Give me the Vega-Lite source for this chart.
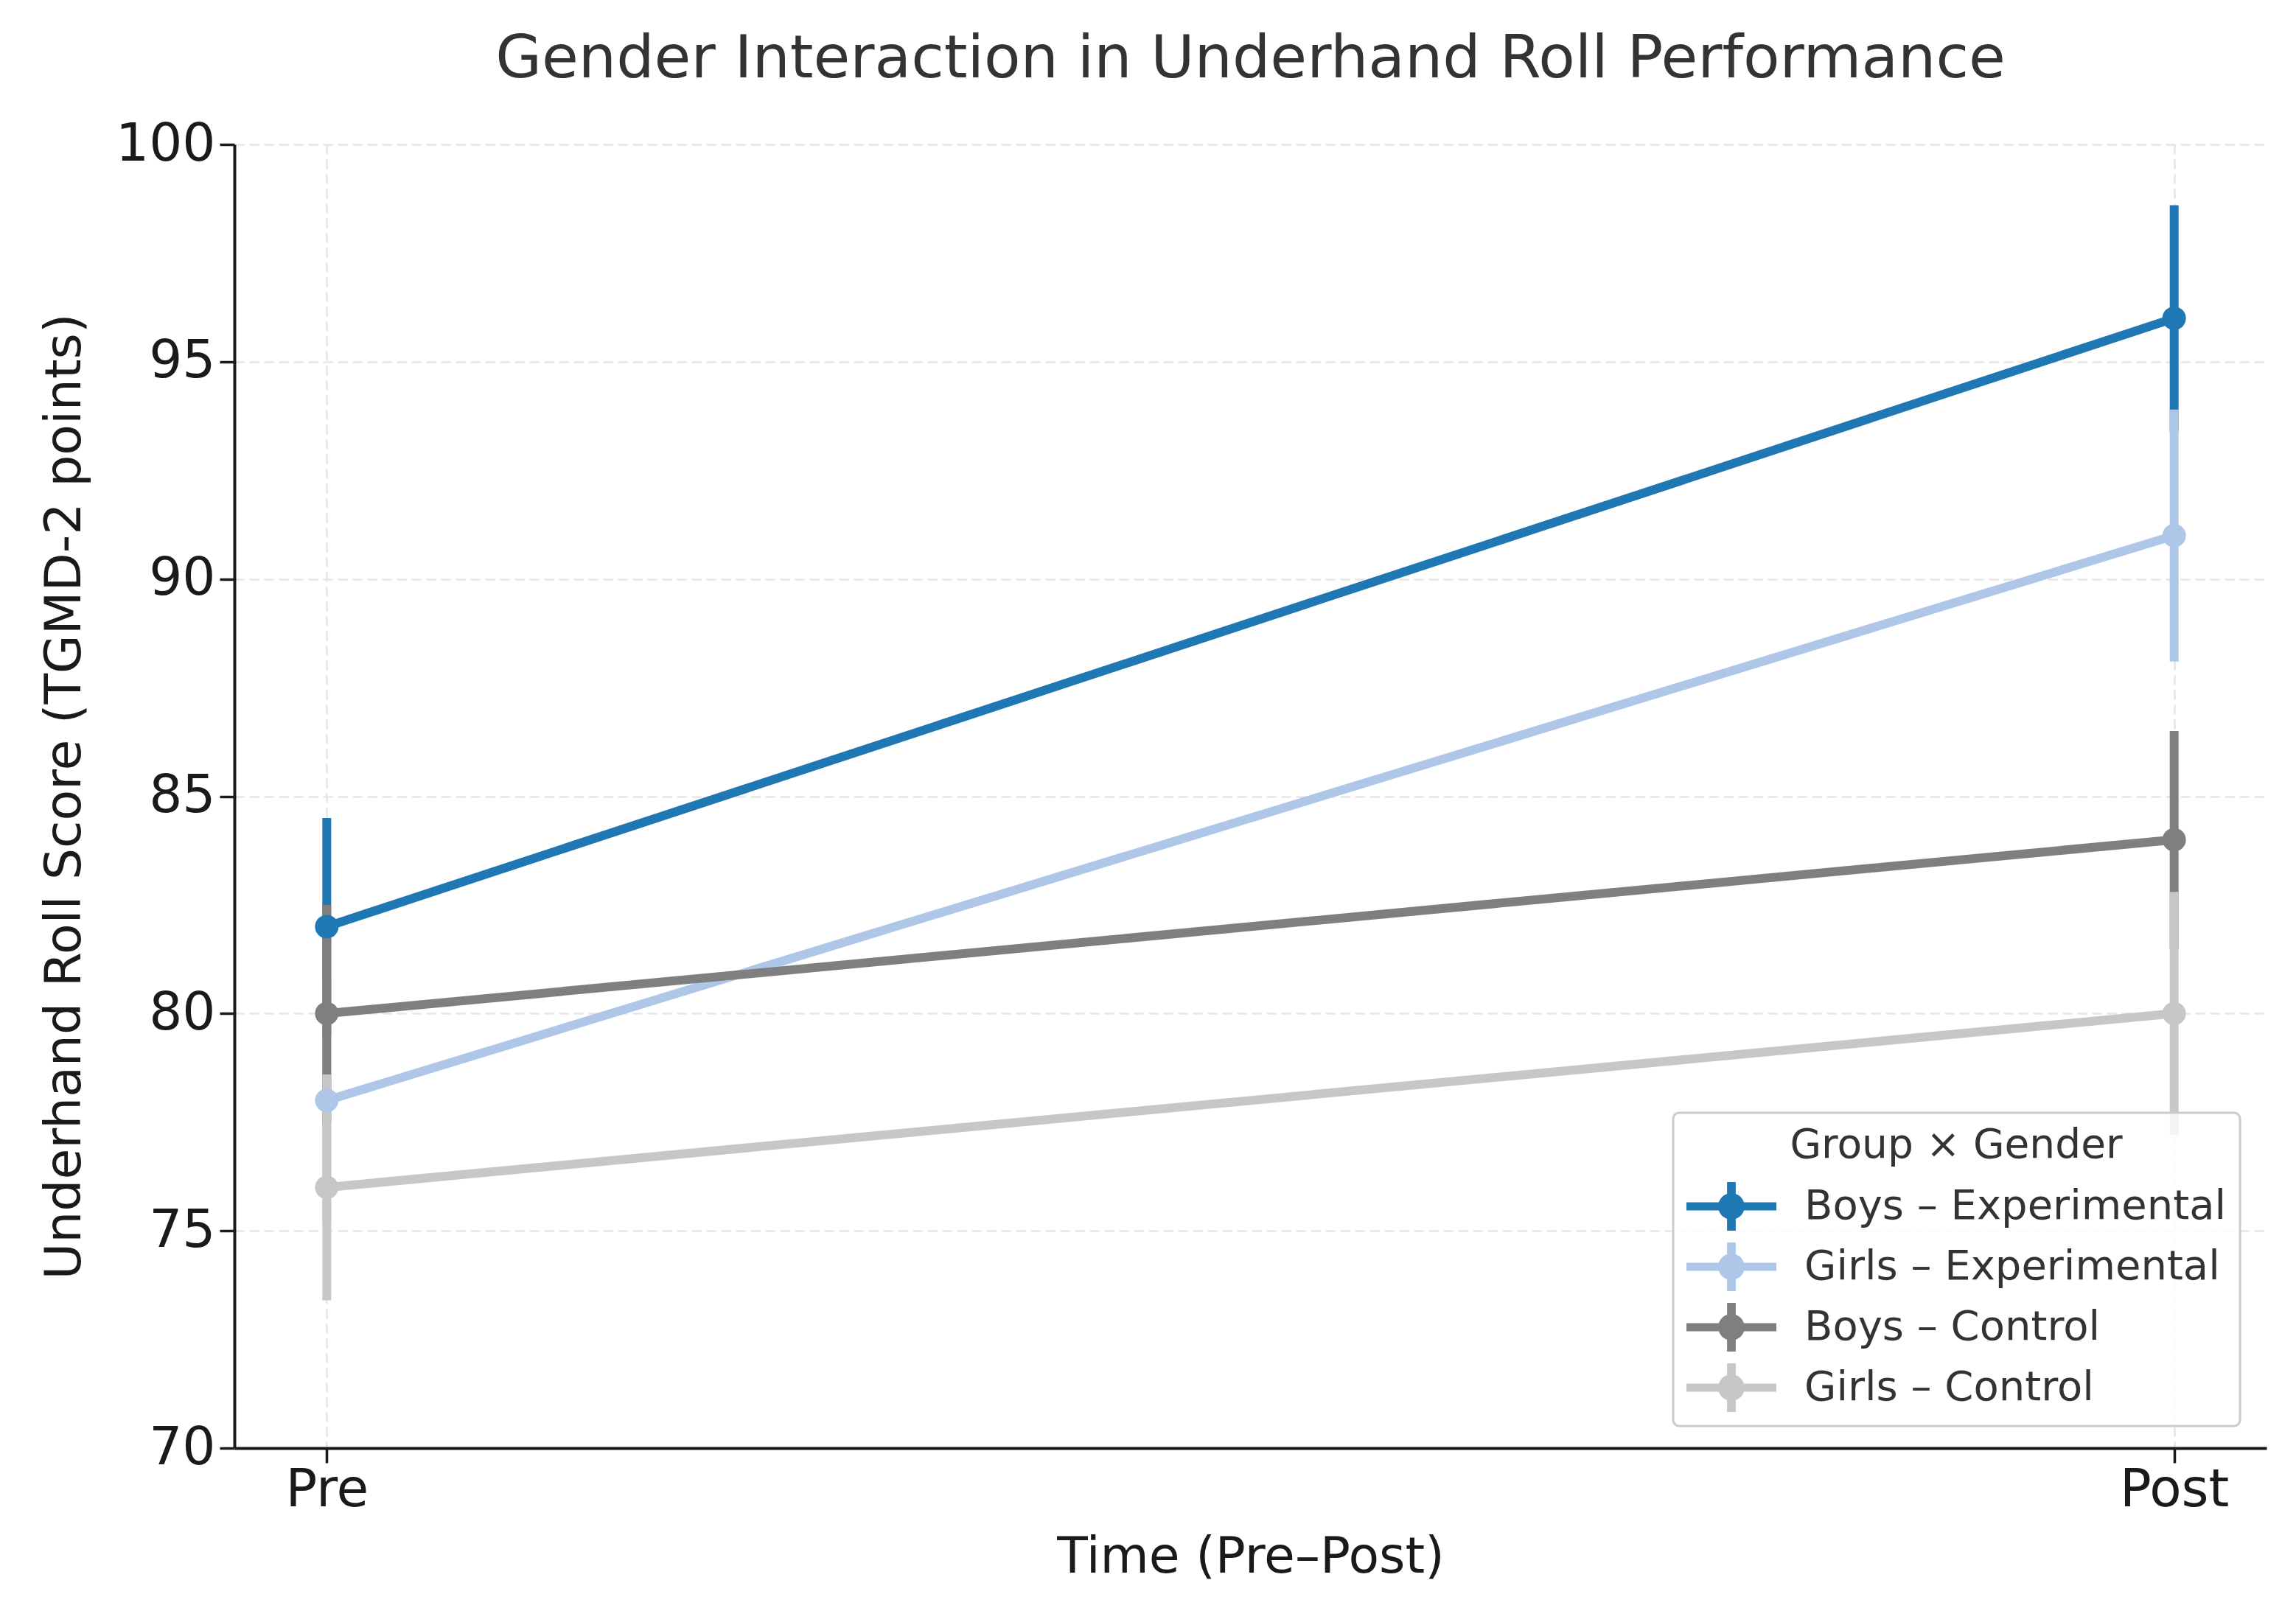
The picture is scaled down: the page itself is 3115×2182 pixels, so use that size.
{
  "$schema": "https://vega.github.io/schema/vega-lite/v6.json",
  "width": 2757,
  "height": 1769,
  "autosize": {"type": "none"},
  "padding": {"left": 318, "top": 196, "right": 40, "bottom": 217},
  "background": "white",
  "title": {
    "text": "Gender Interaction in Underhand Roll Performance",
    "font": "DejaVu Sans",
    "fontSize": 81,
    "fontWeight": "normal",
    "color": "#333333",
    "anchor": "middle",
    "baseline": "alphabetic",
    "offset": -26
  },
  "data": {
    "values": [
      {"group": "Boys – Experimental", "time": "Pre", "score": 82, "lo": 79.5, "hi": 84.5},
      {"group": "Boys – Experimental", "time": "Post", "score": 96, "lo": 93.4, "hi": 98.6},
      {"group": "Girls – Experimental", "time": "Pre", "score": 78, "lo": 75.2, "hi": 80.8},
      {"group": "Girls – Experimental", "time": "Post", "score": 91, "lo": 88.1, "hi": 93.9},
      {"group": "Boys – Control", "time": "Pre", "score": 80, "lo": 77.5, "hi": 82.5},
      {"group": "Boys – Control", "time": "Post", "score": 84, "lo": 81.5, "hi": 86.5},
      {"group": "Girls – Control", "time": "Pre", "score": 76, "lo": 73.4, "hi": 78.6},
      {"group": "Girls – Control", "time": "Post", "score": 80, "lo": 77.2, "hi": 82.8}
    ]
  },
  "encoding": {
    "x": {
      "field": "time",
      "type": "nominal",
      "sort": ["Pre", "Post"],
      "scale": {"type": "point", "domain": ["Pre", "Post"], "padding": 0.05},
      "axis": {"title": "Time (Pre–Post)", "labelAngle": 0, "labelPadding": 2, "titlePadding": 22, "grid": true}
    },
    "color": {
      "field": "group",
      "type": "nominal",
      "scale": {
        "domain": ["Boys – Experimental", "Girls – Experimental", "Boys – Control", "Girls – Control"],
        "range": ["#1f77b4", "#aec7e8", "#7f7f7f", "#c7c7c7"]
      },
      "legend": {
        "title": "Group × Gender",
        "orient": "none",
        "legendX": 1952,
        "legendY": 1314,
        "symbolType": "M-2.18,-0.2H2.18V0.2H-2.18Z M-0.21,-1.18H0.21V1.18H-0.21Z M0.64,0A0.64,0.64 0 1 1 -0.64,0A0.64,0.64 0 1 1 0.64,0Z",
        "symbolSize": 3136,
        "symbolStrokeWidth": 0,
        "symbolOpacity": 1,
        "symbolOffset": 33,
        "labelOffset": 71,
        "encode": {
          "symbols": {
            "update": {
              "fill": {"scale": "color", "field": "value"},
              "stroke": {"value": "transparent"},
              "opacity": {"value": 1}
            }
          }
        }
      }
    }
  },
  "layer": [
    {
      "mark": {"type": "rule", "strokeWidth": 12, "strokeCap": "butt"},
      "encoding": {
        "y": {"field": "lo", "type": "quantitative"},
        "y2": {"field": "hi"}
      }
    },
    {
      "mark": {"type": "line", "strokeWidth": 12},
      "encoding": {
        "y": {
          "field": "score",
          "type": "quantitative",
          "scale": {"domain": [70, 100], "nice": false, "zero": false},
          "axis": {"title": "Underhand Roll Score (TGMD-2 points)", "values": [70, 75, 80, 85, 90, 95, 100], "format": "d", "labelLimit": 400, "labelPadding": 6, "titlePadding": 34}
        }
      }
    },
    {
      "mark": {"type": "point", "filled": true, "size": 1018, "opacity": 1, "shape": "circle"},
      "encoding": {
        "y": {"field": "score", "type": "quantitative"}
      }
    }
  ],
  "config": {
    "view": {"stroke": null},
    "axis": {
      "domainColor": "#1a1a1a",
      "domainWidth": 4,
      "tickColor": "#1a1a1a",
      "tickWidth": 3.5,
      "tickSize": 20,
      "labelFont": "DejaVu Sans",
      "labelFontSize": 71,
      "labelColor": "#1a1a1a",
      "labelLimit": 400,
      "titleFont": "DejaVu Sans",
      "titleFontSize": 68,
      "titleFontWeight": "normal",
      "titleColor": "#1a1a1a",
      "titleLimit": 3000,
      "gridColor": "#e6e6e6",
      "gridDash": [13, 7],
      "gridWidth": 2.5
    },
    "legend": {
      "titleFont": "DejaVu Sans",
      "titleFontSize": 55,
      "titleFontWeight": "normal",
      "titleColor": "#333333",
      "titleAnchor": "middle",
      "titleLimit": 1000,
      "titlePadding": 26,
      "labelFont": "DejaVu Sans",
      "labelFontSize": 56,
      "labelColor": "#333333",
      "labelLimit": 1000,
      "rowPadding": 14,
      "padding": 18,
      "fillColor": "rgba(255,255,255,0.8)",
      "strokeColor": "#cccccc",
      "strokeWidth": 3,
      "cornerRadius": 8
    }
  }
}
